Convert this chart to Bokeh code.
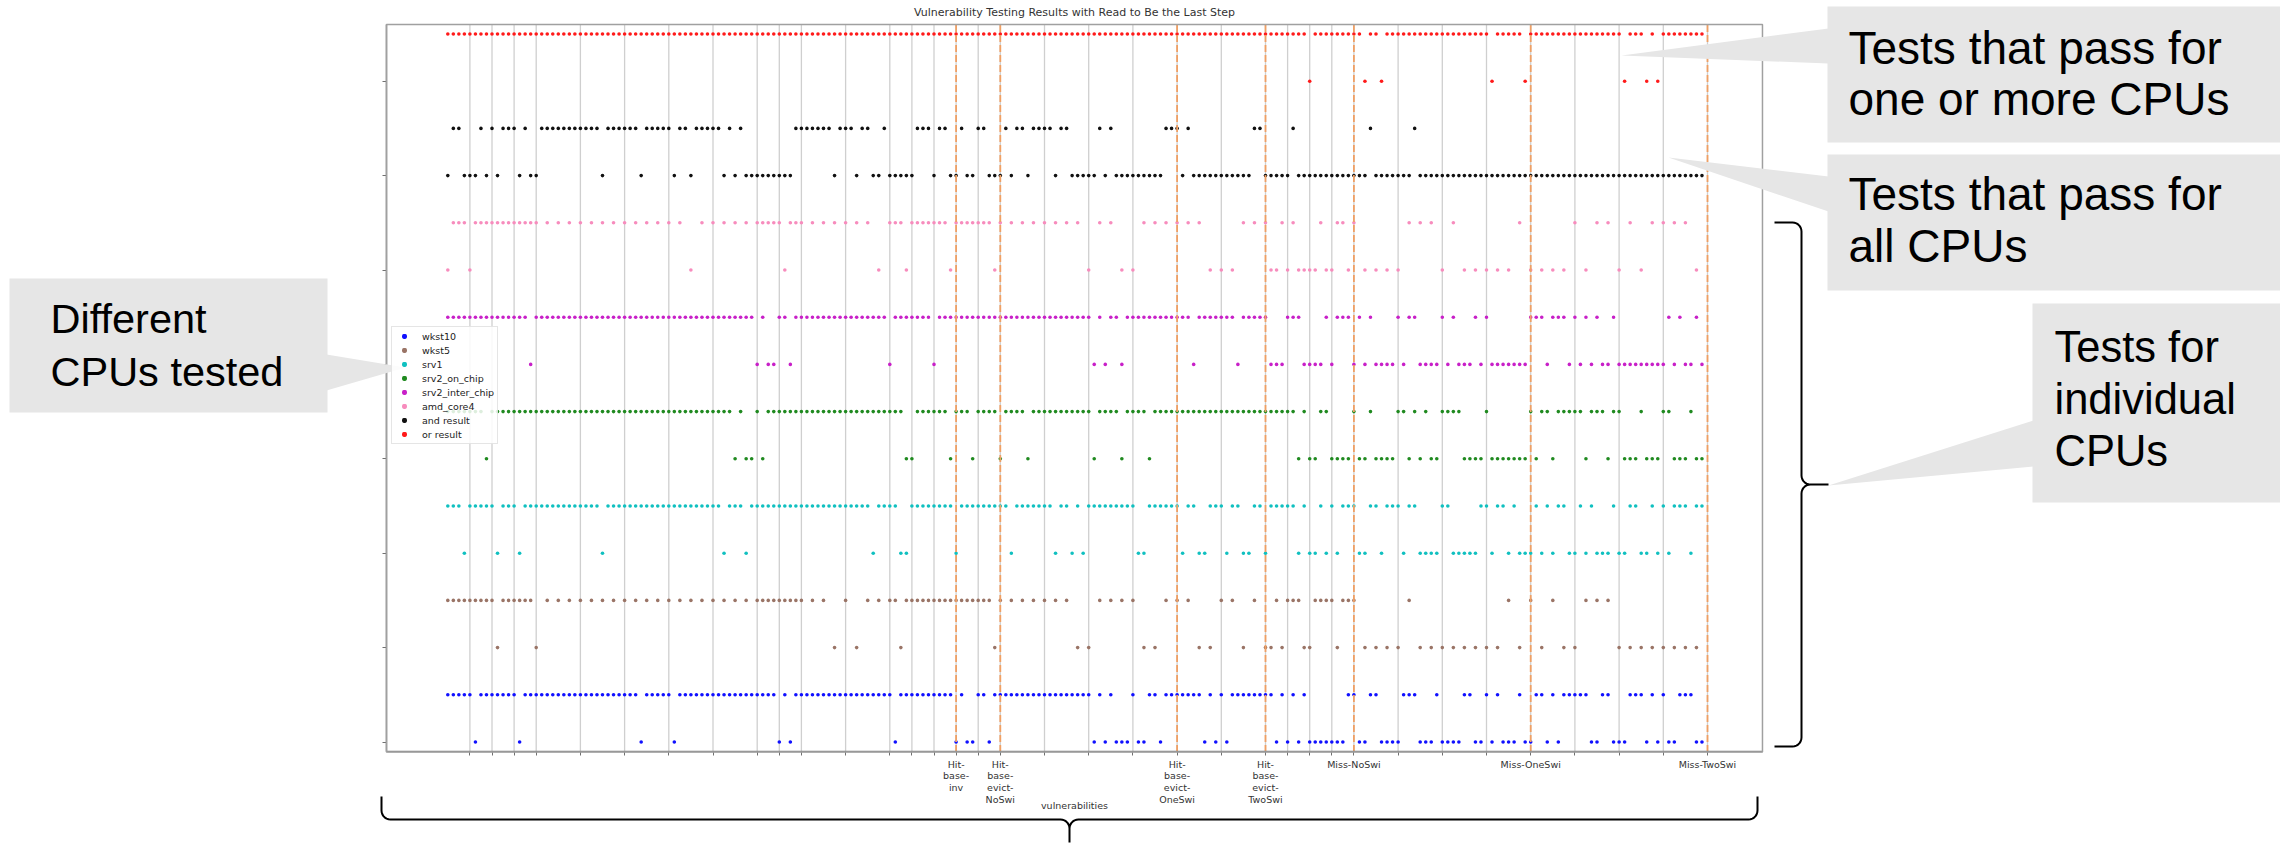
import numpy as np
from bokeh.plotting import figure
from bokeh.models import (Range1d, FixedTicker, Label, PolyAnnotation, BoxAnnotation,
                          LinearAxis)
from bokeh.embed import file_html
from bokeh.resources import INLINE

# ---------------- data (test indices) ----------------
SERIES = ["wkst10", "wkst5", "srv1", "srv2_on_chip", "srv2_inter_chip",
          "amd_core4", "and result", "or result"]
COLORS = ["#1010ff", "#9a7466", "#10c0c0", "#208a20", "#c820c8",
          "#f78cbd", "#111111", "#ff1a1a"]

wkst10_pass = "0-4,6-12,14-34,36-40,42-59,61,63-80,82-91,93,96-97,99-116,118,120,124,127-128,130-136,138,140,142-149,151,153,155,163-164,167-168,173-175,179,184-185,188,190,194,197-198,200,202-206,209-210,214-216,218,220,223-225"
wkst10_fail = "5,13,35,41,60,62,81,92,94-95,98,117,119,121-123,125-126,129,137,139,141,150,152,154,156-162,165-166,169-172,176-178,180-183,186-187,189,191-193,195-196,199,201,207-208,211-213,217,219,221-222,226-227"

wkst5_pass = "0-8,10-15,18,20,22,24,26,28,30,32,34,36,38,40,42,44,46,48,50,52,54,56-64,66,68,72,76,78,80-81,83-98,100,102,104,106,108,110,112,118,120,122,124,130,132,134,140,142,146,150,152-154,157-160,162-164,174,192,196,200,206,208,210"
wkst5_fail = "9,16,70,74,82,99,114,116,126,128,136,138,144,148-149,151,155-156,161,166,168,170,172,176,178,180,182,184,186,188,190,194,198,202,204,212,214,216,218,220,222,224,226"

srv1_pass = "0-2,4-8,10-12,14-27,29-49,51-53,55-76,78-81,84-91,93-101,103-109,111-112,114,116-124,127-132,134-135,138-140,142-143,146-147,149-153,155,158,160,162-164,167-168,170-172,174-175,180-181,187-188,190-191,193,197,199,201-202,205,207,211,214-215,218,220,222-224,226-227"
srv1_fail = "3,9,13,28,50,54,77,82-83,92,102,110,113,115,125-126,133,136-137,141,144-145,148,154,156-157,159,161,165-166,169,173,176-179,182-186,189,192,194-196,198,200,203-204,206,208-210,212-213,216-217,219,221,225"

srv2_on_chip_pass = "0-6,8-51,53,56,58-82,85-90,92-94,96-99,101-104,106-116,118-121,123-126,128-153,155,158-159,164,167,172-173,175,177,180-183,188,196,198-199,201-205,207-209,211-212,216,220-221,225"
srv2_on_chip_fail = "7,52,54-55,57,83-84,91,95,100,105,117,122,127,154,156-157,160-163,165-166,168-171,174,176,178-179,184-187,189-195,197,200,206,210,213-215,217-219,222-224,226-227"

srv2_inter_chip_pass = "0-14,16-55,57,60-61,63-79,81-87,89-116,118,120-121,123-134,136-142,144-148,152-154,159,161-163,165,167,172,174-175,180,182,186,188,196-198,200-202,204,206,208,211,221,223,226"
srv2_inter_chip_fail = "15,56,58-59,62,80,88,117,119,122,135,143,149-151,155-158,160,164,166,168-171,173,176-179,181,183-185,187,189-195,199,203,205,207,209-210,212-220,222,224-225,227"

amd_core4_pass = "1-3,5-16,18,20,22,24,26,28,30,32,34,36,38,40,42,46,48,50,52,54,56-60,62-64,66,68,70,72,74,76,80-82,84-90,92-98,100,102,104,106,108,110,112,114,118,120,126,128,130,132,134,136,144,146,148,151,153,158,161-162,164,174,176,178,182,194,204,208,210,214,218,220,222,224"
amd_core4_fail = "0,4,44,61,78,83,91,99,116,122,124,138,140,142,149-150,152,154-157,159-160,163,166,168,170,172,180,184,186,188,190,192,196,198,200,202,206,212,216,226"

and_pass = "1-2,6,8,10-12,14,17-27,29-34,36-40,42-43,45-49,51,53,63-69,71-73,75-76,79,85-87,89-90,93,96-97,101,103-104,106-109,111-112,118,120,130-132,134,146-147,153,167,175"
and_fail = "0,3-5,7,9,13,15-16,28,35,41,44,50,52,54-62,70,74,77-78,80-84,88,91-92,94-95,98-100,102,105,110,113-117,119,121-129,133,135-145,148-152,154-166,168-174,176-227"

or_pass = "0-155,157-165,167-168,170-188,190-194,196-212,214-216,218,220-227"
or_fail = "156,166,169,189,195,213,217,219"

PASSES = [wkst10_pass, wkst5_pass, srv1_pass, srv2_on_chip_pass,
          srv2_inter_chip_pass, amd_core4_pass, and_pass, or_pass]
FAILS = [wkst10_fail, wkst5_fail, srv1_fail, srv2_on_chip_fail,
         srv2_inter_chip_fail, amd_core4_fail, and_fail, or_fail]

TICKS = [4, 8, 12, 16, 24, 32, 40, 48, 56, 60, 64, 72, 80, 84, 88, 92, 96, 100,
         108, 116, 124, 132, 140, 148, 152, 156, 160, 164, 172, 180, 188, 196,
         204, 212, 220, 228]
TICK_LABELS = {92: "Hit-\nbase-\ninv", 100: "Hit-\nbase-\nevict-\nNoSwi",
               132: "Hit-\nbase-\nevict-\nOneSwi", 148: "Hit-\nbase-\nevict-\nTwoSwi",
               164: "Miss-NoSwi", 196: "Miss-OneSwi", 228: "Miss-TwoSwi"}
LABELED = sorted(TICK_LABELS)
YTICKS = [0, 2, 4, 6, 8, 10, 12, 14]


def expand(spec):
    out = []
    for part in spec.split(","):
        if "-" in part:
            a, b = part.split("-")
            out.extend(range(int(a), int(b) + 1))
        else:
            out.append(int(part))
    return out


# ---------------- canvas / plot box geometry ----------------
W, H = 2280, 843
XB0, XB1 = -11.1, 237.95        # x limits of the plotting box
YB0, YB1 = -0.21, 15.2          # y limits of the plotting box
PX_X = 5.525                    # pixels per test
PX_Y = 47.2                     # pixels per y unit
X0_PIX, Y0_PIX = 447.3, 741.5   # canvas pixel of data (0, 0)

p = figure(width=W, height=H, output_backend="svg", toolbar_location=None,
           title=None, x_axis_location=None, y_axis_location=None,
           x_range=Range1d(-X0_PIX / PX_X, (W - X0_PIX) / PX_X),
           y_range=Range1d((Y0_PIX - H) / PX_Y, Y0_PIX / PX_Y),
           min_border_left=0, min_border_right=0,
           min_border_top=0, min_border_bottom=0)
p.background_fill_color = "white"
p.border_fill_color = "white"
p.outline_line_color = None
p.xgrid.visible = False
p.ygrid.visible = False

# vertical grid lines at every tick, orange dashed lines at the labelled ones
p.segment(x0=TICKS, y0=[YB0] * len(TICKS), x1=TICKS, y1=[YB1] * len(TICKS),
          line_color="#cfcfcf", line_width=1.3)

for k, name in enumerate(SERIES):
    xs_p = expand(PASSES[k])
    xs_f = expand(FAILS[k])
    p.scatter(xs_p, [2 * k + 1] * len(xs_p), size=3.6, color=COLORS[k],
              line_width=0, legend_label=name)
    p.scatter(xs_f, [2 * k] * len(xs_f), size=3.6, color=COLORS[k],
              line_width=0, legend_label=name)

p.segment(x0=LABELED, y0=[YB0] * len(LABELED), x1=LABELED, y1=[YB1] * len(LABELED),
          line_color="#f0a064", line_width=1.8, line_dash="7 3")

# box around the plotting area
p.add_layout(BoxAnnotation(left=XB0, right=XB1, bottom=YB0, top=YB1,
                           fill_alpha=0, line_color="#a0a0a0", line_alpha=1,
                           line_width=1.5))

# x axis: all tick marks (no text) + labelled ticks
xa = LinearAxis(ticker=FixedTicker(ticks=TICKS), fixed_location=YB0, bounds=(XB0, XB1))
xa.major_label_text_color = None
xa.axis_line_color = "#808080"
xa.axis_line_width = 1.5
xa.major_tick_in = 0
xa.major_tick_out = 4
xa.major_tick_line_color = "#707070"
xa.minor_tick_line_color = None
p.add_layout(xa, "below")

xl = LinearAxis(ticker=FixedTicker(ticks=LABELED), fixed_location=YB0, bounds=(XB0, XB1))
xl.major_label_overrides = {t: TICK_LABELS[t] for t in LABELED}
xl.axis_line_color = None
xl.major_tick_line_color = None
xl.minor_tick_line_color = None
xl.major_tick_in = 0
xl.major_tick_out = 4
xl.major_label_standoff = 3
xl.major_label_text_font = "DejaVu Sans"
xl.major_label_text_font_size = "9.5px"
xl.major_label_text_line_height = 1.05
xl.major_label_text_color = "#333333"
xl.axis_label = "vulnerabilities"
xl.axis_label_text_font = "DejaVu Sans"
xl.axis_label_text_font_size = "9.5px"
xl.axis_label_text_font_style = "normal"
xl.axis_label_text_color = "#333333"
xl.axis_label_standoff = -7
p.add_layout(xl, "below")

ya = LinearAxis(ticker=FixedTicker(ticks=YTICKS), fixed_location=XB0, bounds=(YB0, YB1))
ya.major_label_text_color = None
ya.axis_line_color = "#808080"
ya.axis_line_width = 1.5
ya.major_tick_in = 0
ya.major_tick_out = 4
ya.major_tick_line_color = "#707070"
ya.minor_tick_line_color = None
p.add_layout(ya, "left")

lg = p.legend[0]
lg.location = (391, H - 444)
lg.label_text_font = "DejaVu Sans"
lg.label_text_font_size = "9.5px"
lg.label_text_color = "#222222"
lg.glyph_width = 18
lg.glyph_height = 12
lg.label_height = 12
lg.label_standoff = 9
lg.spacing = 2
lg.padding = 3
lg.margin = 0
lg.background_fill_alpha = 0.85
lg.border_line_color = "#cccccc"
lg.border_line_width = 1


# ---------------- annotations in canvas pixel coordinates ----------------
def sy(Y):
    return H - Y


def poly(pts, fill="#e6e6e6", line=None, lw=1, level="overlay"):
    pa = PolyAnnotation(xs=[a for a, b in pts], ys=[sy(b) for a, b in pts],
                        xs_units="screen", ys_units="screen",
                        fill_color=fill, fill_alpha=1 if fill else 0,
                        line_color=line, line_alpha=1, line_width=lw, level=level)
    p.add_layout(pa)


def text(X, Y, s, size="43px", font="Liberation Sans", color="black", align="left"):
    p.add_layout(Label(x=X, y=sy(Y), x_units="screen", y_units="screen", text=s,
                       text_font=font, text_font_size=size, text_color=color,
                       text_align=align, text_baseline="middle", level="overlay"))


# title
text(1074, 12, "Vulnerability Testing Results with Read to Be the Last Step",
     size="11px", font="DejaVu Sans", color="#333333", align="center")

# callout: different CPUs
poly([(9, 278), (327, 278), (327, 412), (9, 412)])
poly([(326, 354), (326, 390), (405, 367)])
text(50, 318, "Different", size="41.5px")
text(50, 371, "CPUs tested", size="41.5px")

# callout: one or more CPUs
poly([(1827, 6), (2290, 6), (2290, 142), (1827, 142)])
poly([(1828, 28), (1828, 63), (1621, 55)])
text(1848, 47, "Tests that pass for", size="46px")
text(1848, 98, "one or more CPUs", size="46px")

# callout: all CPUs
poly([(1827, 154), (2290, 154), (2290, 290), (1827, 290)])
poly([(1828, 176), (1828, 211), (1668, 157)])
text(1848, 193, "Tests that pass for", size="46px")
text(1848, 245, "all CPUs", size="46px")

# callout: individual CPUs
poly([(2032, 303), (2290, 303), (2290, 502), (2032, 502)])
poly([(2033, 420), (2033, 466), (1828, 485)])
text(2054, 346, "Tests for", size="43.5px")
text(2054, 398, "individual", size="43.5px")
text(2054, 450, "CPUs", size="43.5px")


def brace(a_end, a_spine, a_tip, b0, b1, r, vertical=True, n=8):
    """Curly brace path: ends at a_end, spine at a_spine, cusp at a_tip."""
    bm = (b0 + b1) / 2.0
    half = [(a_end, b0)]
    cx, cy = a_spine - r, b0 + r
    for t in np.linspace(np.pi / 2, 0, n):
        half.append((cx + r * np.cos(t), cy - r * np.sin(t)))
    cx, cy = a_spine + r, bm - r
    for t in np.linspace(np.pi, 1.5 * np.pi, n):
        half.append((cx + r * np.cos(t), cy - r * np.sin(t)))
    half.append((a_tip, bm))
    lower = [(a, 2 * bm - b) for a, b in reversed(half[:-1])]
    path = half + lower
    if not vertical:
        path = [(b, a) for a, b in path]
    closed = path + path[::-1][1:-1]
    poly(closed, fill=None, line="black", lw=2)


brace(1774, 1801, 1828, 222, 746, 9, vertical=True)
brace(796, 819, 842, 381, 1757, 9, vertical=False)

open("out.html", "w").write(file_html(p, INLINE))
